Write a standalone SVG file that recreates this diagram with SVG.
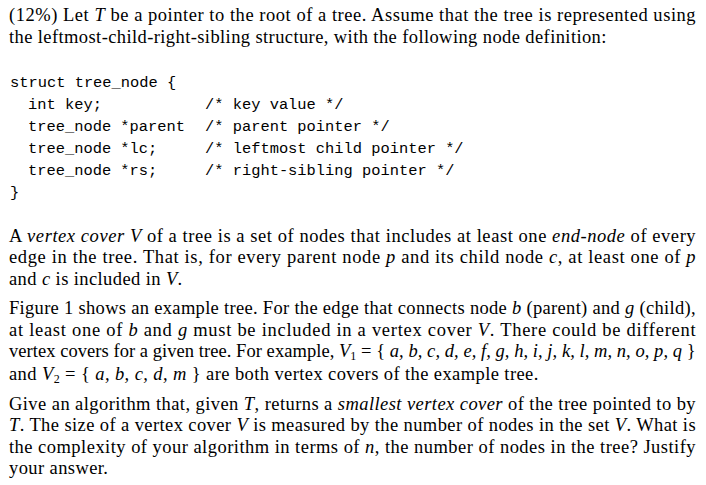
<svg xmlns="http://www.w3.org/2000/svg" width="706" height="485" viewBox="0 0 706 485">
<style>
.t{font-family:"Liberation Serif",serif;font-size:18.5px;letter-spacing:0.4px;fill:#000}
.m{font-family:"Liberation Mono",monospace;font-size:15.4px;fill:#000}
.i{font-style:italic}
</style>
<rect width="706" height="485" fill="#fff"/>
<text class="t" x="9" y="21" textLength="687" lengthAdjust="spacing">(12%) Let <tspan class="i">T</tspan> be a pointer to the root of a tree. Assume that the tree is represented using</text>
<text class="t" x="9" y="43">the leftmost-child-right-sibling structure, with the following node definition:</text>
<g class="m">
<text x="10" y="87">struct tree_node {</text>
<text x="28" y="109">int key;</text><text x="205" y="109">/* key value */</text>
<text x="28" y="131">tree_node *parent</text><text x="205" y="131">/* parent pointer */</text>
<text x="28" y="153">tree_node *lc;</text><text x="205" y="153">/* leftmost child pointer */</text>
<text x="28" y="175">tree_node *rs;</text><text x="205" y="175">/* right-sibling pointer */</text>
<text x="10" y="197">}</text>
</g>
<text class="t" x="9" y="242" textLength="687" lengthAdjust="spacing">A <tspan class="i">vertex cover V</tspan> of a tree is a set of nodes that includes at least one <tspan class="i">end-node</tspan> of every</text>
<text class="t" x="9" y="263" textLength="687" lengthAdjust="spacing">edge in the tree. That is, for every parent node <tspan class="i">p</tspan> and its child node <tspan class="i">c</tspan>, at least one of <tspan class="i">p</tspan></text>
<text class="t" x="9" y="285">and <tspan class="i">c</tspan> is included in <tspan class="i">V</tspan>.</text>
<text class="t" x="9" y="314" textLength="687" lengthAdjust="spacing">Figure 1 shows an example tree. For the edge that connects node <tspan class="i">b</tspan> (parent) and <tspan class="i">g</tspan> (child),</text>
<text class="t" x="9" y="336" textLength="687" lengthAdjust="spacing">at least one of <tspan class="i">b</tspan> and <tspan class="i">g</tspan> must be included in a vertex cover <tspan class="i">V</tspan>. There could be different</text>
<text class="t" x="9" y="357" textLength="687" lengthAdjust="spacing">vertex covers for a given tree. For example, <tspan class="i">V</tspan><tspan font-size="12" dy="3">1</tspan><tspan dy="-3"> = { </tspan><tspan class="i">a, b, c, d, e, f, g, h, i, j, k, l, m, n, o, p, q</tspan> }</text>
<text class="t" x="9" y="380">and <tspan class="i">V</tspan><tspan font-size="12" dy="3">2</tspan><tspan dy="-3"> = { </tspan><tspan class="i">a, b, c, d, m</tspan> } are both vertex covers of the example tree.</text>
<text class="t" x="9" y="410" textLength="687" lengthAdjust="spacing">Give an algorithm that, given <tspan class="i">T</tspan>, returns a <tspan class="i">smallest vertex cover</tspan> of the tree pointed to by</text>
<text class="t" x="9" y="431" textLength="687" lengthAdjust="spacing"><tspan class="i">T</tspan>. The size of a vertex cover <tspan class="i">V</tspan> is measured by the number of nodes in the set <tspan class="i">V</tspan>. What is</text>
<text class="t" x="9" y="453" textLength="687" lengthAdjust="spacing">the complexity of your algorithm in terms of <tspan class="i">n</tspan>, the number of nodes in the tree? Justify</text>
<text class="t" x="9" y="474">your answer.</text>
</svg>
